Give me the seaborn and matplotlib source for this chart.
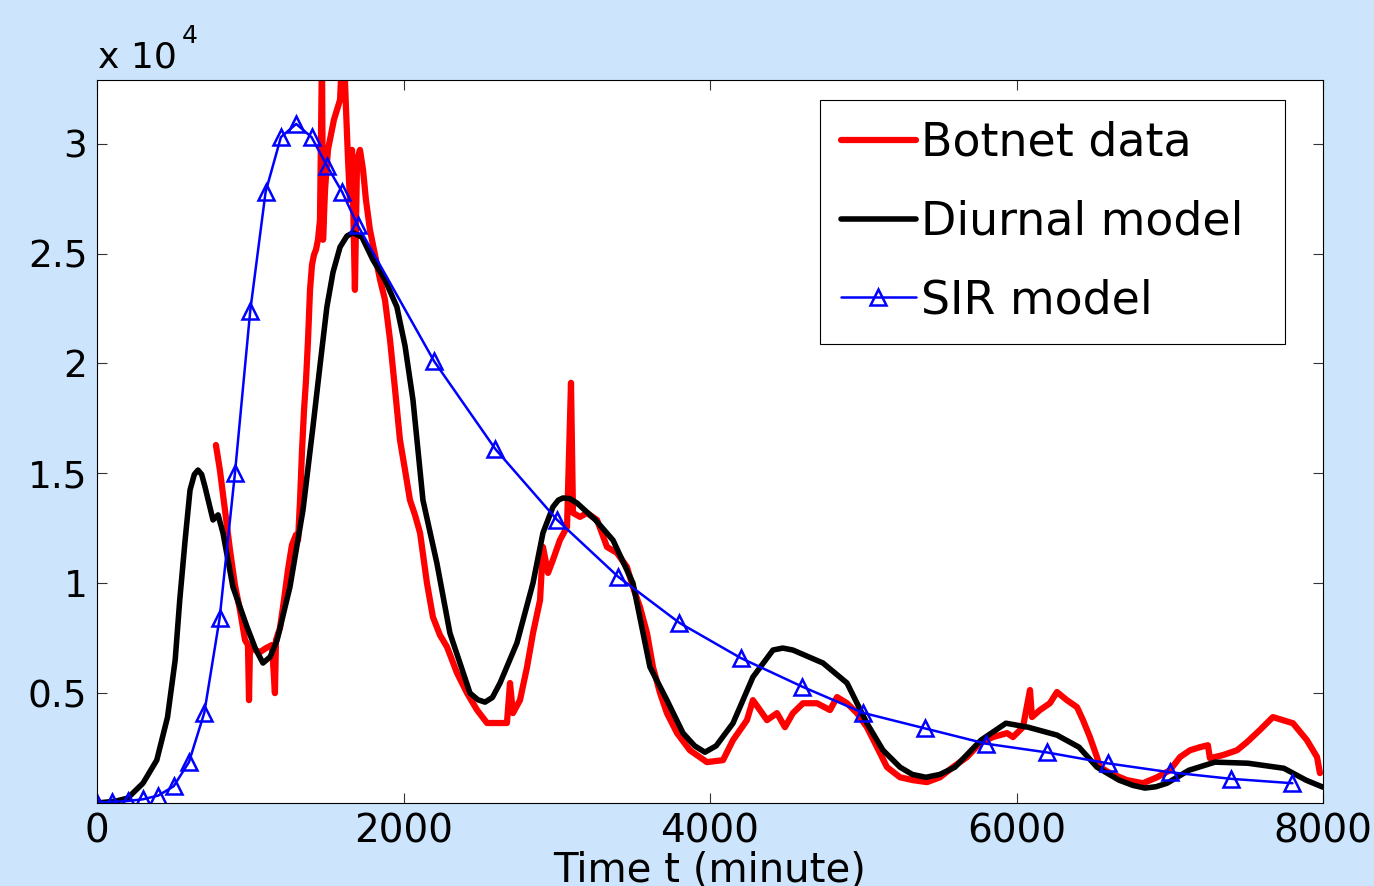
import numpy as np
import pandas as pd
import matplotlib
matplotlib.use('Agg')
import matplotlib.pyplot as plt
import seaborn as sns

# ---- data (time in minutes, infected hosts) ----
red_t = [776, 802, 835, 868, 900, 933, 966, 985, 992, 998, 1031, 1064, 1103, 1142, 1161, 1168,
         1194, 1220, 1246, 1272, 1298, 1312, 1325, 1338, 1351, 1364, 1377, 1390, 1403, 1416, 1429,
         1442, 1455, 1468, 1475, 1488, 1507, 1527, 1546, 1566, 1586, 1599, 1612, 1625, 1638, 1651,
         1664, 1683, 1697, 1716, 1736, 1755, 1781, 1814, 1847, 1879, 1912, 1945, 1977, 2010, 2042,
         2075, 2108, 2153, 2192, 2238, 2284, 2349, 2414, 2480, 2545, 2610, 2675, 2695, 2714, 2760,
         2806, 2845, 2891, 2910, 2943, 2975, 3021, 3067, 3093, 3106, 3152, 3197, 3263, 3328, 3393,
         3458, 3497, 3543, 3589, 3628, 3674, 3719, 3785, 3869, 3980, 4085, 4150, 4241, 4280, 4326,
         4372, 4437, 4489, 4541, 4607, 4698, 4783, 4829, 4894, 4959, 5024, 5090, 5155, 5240, 5324,
         5416, 5501, 5585, 5677, 5762, 5846, 5938, 5977, 6042, 6088, 6101, 6153, 6218, 6264, 6329,
         6395, 6434, 6479, 6525, 6545, 6610, 6721, 6825, 6917, 7001, 7067, 7132, 7197, 7249, 7262,
         7347, 7439, 7504, 7588, 7673, 7739, 7804, 7895, 7961, 7980]
red_v = [16290, 15150, 13330, 11510, 9920, 8780, 7410, 7190, 4680, 7050, 6960, 6870, 7050, 7190, 5000, 7410,
         7960, 9230, 10600, 11740, 12200, 11970, 13790, 16070, 17890, 19250, 21080, 23350, 24490, 24950, 25180,
         25630, 26540, 34000, 25630, 27900, 29720, 30410, 31090, 31550, 32000, 34000, 34000, 31550, 29270, 27440,
         29720, 23350, 29270, 29720, 28810, 27440, 26080, 24950, 23810, 22900, 21080, 18800, 16520, 15150, 13790,
         13110, 12290, 10010, 8460, 7640, 7100, 5920, 5010, 4230, 3640, 3640, 3640, 5460, 4090, 4680,
         6180, 7730, 9230, 11650, 10470, 11060, 11970, 12560, 19120, 13200, 13020, 13200, 12880, 11650, 11380,
         10740, 9830, 8920, 7730, 6180, 5000, 4090, 3180, 2400, 1860, 1950, 2860, 3770, 4680, 4230,
         3770, 4090, 3450, 4090, 4540, 4540, 4230, 4820, 4540, 4090, 3450, 2540, 1630, 1170, 1040,
         950, 1170, 1630, 2090, 2720, 3000, 3180, 3000, 3450, 5140, 3910, 4230, 4540, 5050, 4680,
         4360, 3770, 3000, 2090, 1630, 1360, 1040, 900, 1170, 1490, 2090, 2400, 2540, 2630, 2040,
         2180, 2400, 2770, 3320, 3910, 3770, 3630, 2860, 2090, 1360]

diurnal_t = [0, 120, 200, 300, 390, 460, 510, 540, 575, 607, 635, 659, 683, 705, 757, 790, 822, 887,
             979, 1035, 1083, 1130, 1175, 1259, 1344, 1409, 1455, 1500, 1540, 1586, 1631, 1670, 1729,
             1801, 1880, 1957, 2010, 2062, 2127, 2218, 2303, 2434, 2485, 2532, 2580, 2630, 2740, 2845,
             2910, 2975, 3010, 3041, 3085, 3132, 3250, 3367, 3497, 3608, 3719, 3824, 3900, 3967, 4040,
             4150, 4280, 4411, 4475, 4541, 4737, 4894, 5024, 5129, 5240, 5320, 5409, 5500, 5598, 5768,
             5931, 6075, 6264, 6408, 6525, 6669, 6760, 6838, 6910, 6982, 7125, 7295, 7510, 7745, 7889,
             8000]
diurnal_v = [0, 80, 220, 900, 1950, 3900, 6500, 9240, 11960, 14240, 14950, 15150, 14950, 14380, 12880, 13110,
             12290, 9830, 8010, 7000, 6370, 6650, 7410, 9830, 13330, 17110, 19900, 22570, 24150, 25300,
             25800, 25950, 25750, 24710, 23800, 22570, 20800, 18330, 13780, 10910, 7730, 5000, 4700, 4590,
             4800, 5460, 7280, 10010, 12290, 13470, 13780, 13880, 13850, 13650, 12900, 11960, 10010, 6190,
             4680, 3180, 2600, 2310, 2600, 3630, 5730, 6960, 7050, 6960, 6370, 5460, 3630, 2400, 1630,
             1300, 1170, 1300, 1630, 2860, 3630, 3450, 3090, 2540, 1630, 1040, 800, 680, 740, 900, 1490,
             1860, 1810, 1580, 1040, 720]

sir_t = [0, 100, 200, 300, 400, 500, 600, 700, 800, 900, 1000, 1100, 1200, 1300, 1400, 1500, 1600, 1700,
         2200, 2600, 3000, 3400, 3800, 4200, 4600, 5000, 5400, 5800, 6200, 6600, 7000, 7400, 7800]
sir_v = [20, 50, 90, 170, 340, 760, 1860, 4100, 8400, 15000, 22400, 27800, 30300, 30900, 30300, 29000, 27800, 26300,
         20100, 16100, 12900, 10300, 8200, 6600, 5300, 4100, 3400, 2700, 2300, 1800, 1400, 1100, 900]

xticks = [0, 2000, 4000, 6000, 8000]
yticks = [5000, 10000, 15000, 20000, 25000, 30000]
ytick_labels = ['0.5', '1', '1.5', '2', '2.5', '3']

bg = '#cce5fc'

sns.set_style('white', {'text.color': 'black', 'axes.labelcolor': 'black',
                        'xtick.color': 'black', 'ytick.color': 'black'})
plt.rcParams['font.family'] = ['DejaVu Sans']

fig = plt.figure(figsize=(13.74, 8.86), dpi=100, facecolor=bg)
ax = fig.add_axes([97 / 1374, 1 - 803 / 886, 1226 / 1374, 723 / 886])
ax.set_facecolor('white')

df_red = pd.DataFrame({'t': red_t, 'v': red_v})
df_diu = pd.DataFrame({'t': diurnal_t, 'v': diurnal_v})
df_sir = pd.DataFrame({'t': sir_t, 'v': sir_v})

sns.lineplot(data=df_red, x='t', y='v', ax=ax, color='#ff0000', linewidth=4.5,
             estimator=None, sort=False, label='Botnet data')
sns.lineplot(data=df_diu, x='t', y='v', ax=ax, color='black', linewidth=4.0,
             estimator=None, sort=False, label='Diurnal model')
sns.lineplot(data=df_sir, x='t', y='v', ax=ax, color='#0000ff', linewidth=1.8,
             marker='^', markersize=12, markerfacecolor='none', markeredgecolor='#0000ff',
             markeredgewidth=1.8, estimator=None, sort=False, label='SIR model')

ax.set_xlim(0, 8000)
ax.set_ylim(0, 32900)
ax.set_xticks(xticks)
ax.set_xticklabels([str(x) for x in xticks])
ax.set_yticks(yticks)
ax.set_yticklabels(ytick_labels)
ax.tick_params(axis='both', direction='in', length=7, width=0.8, color='#333333',
               labelcolor='black', top=True, right=True, bottom=True, left=True, pad=7)
ax.tick_params(axis='x', labelsize=28)
ax.tick_params(axis='y', labelsize=27)
for s in ax.spines.values():
    s.set_color('black')
    s.set_linewidth(0.8)

ax.set_xlabel('Time t (minute)', fontsize=29, labelpad=0, color='black')
ax.set_ylabel('')

leg = ax.legend(loc='upper left', bbox_to_anchor=(0.5897, 0.6335, 0.3793, 0.3388), mode='expand',
                borderaxespad=0, fontsize=33, handlelength=1.65, handletextpad=0.1,
                labelspacing=0.74, borderpad=0.45, frameon=True, fancybox=False,
                edgecolor='black', framealpha=1)
leg.get_frame().set_linewidth(0.8)
for txt in leg.get_texts():
    txt.set_color('black')

fig.text(98 / 1374, 1 - 68 / 886, 'x 10', fontsize=26, ha='left', va='baseline', color='black')
fig.text(182 / 1374, 1 - 43 / 886, '4', fontsize=18, ha='left', va='baseline', color='black')

fig.savefig('out.png', dpi=100, facecolor=bg)
